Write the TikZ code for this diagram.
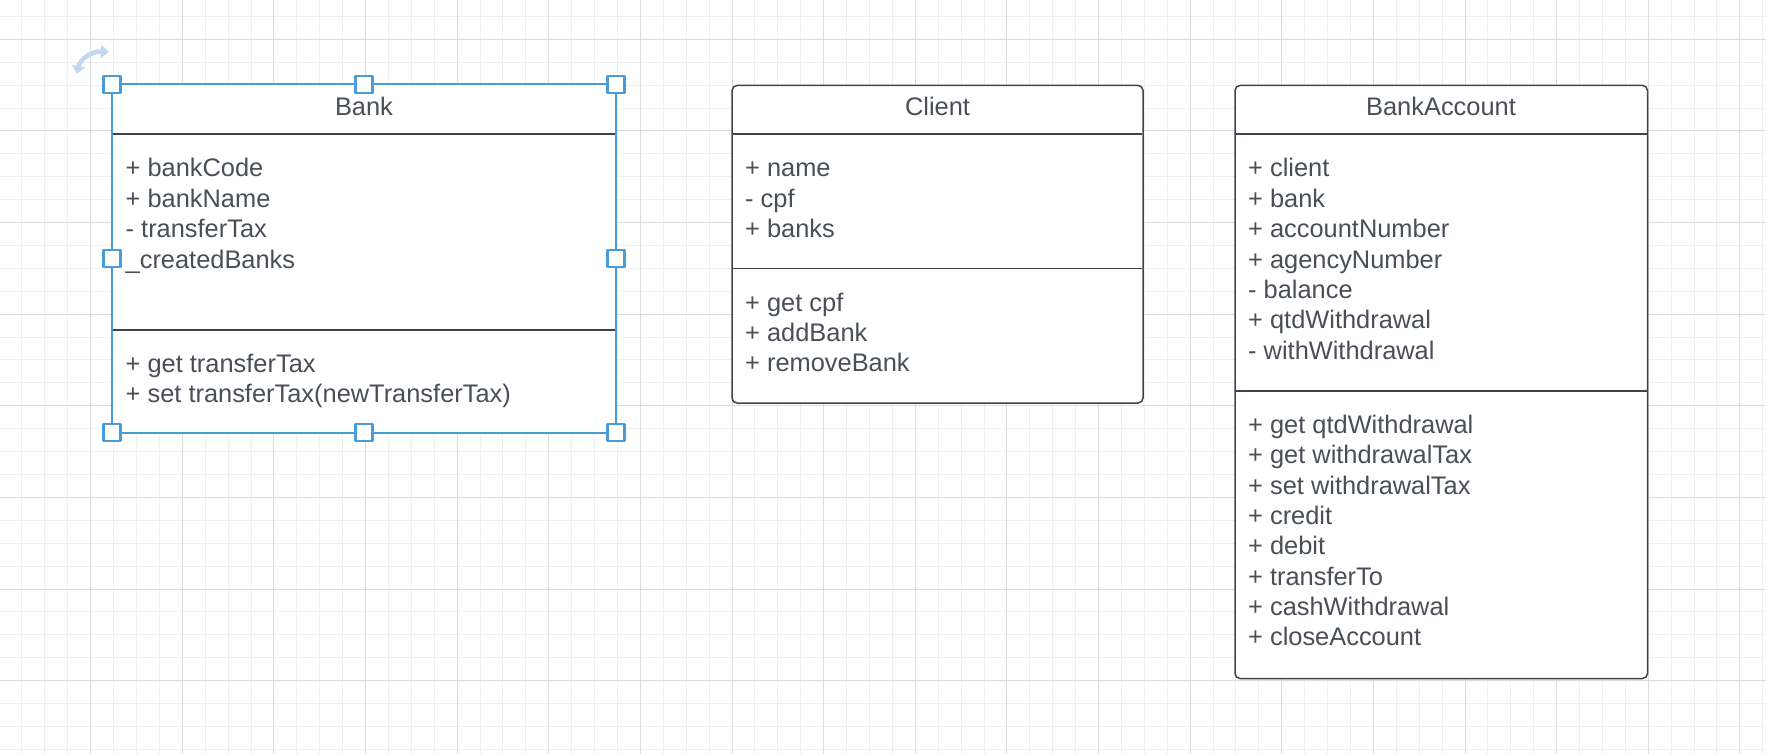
\documentclass[tikz,border=0pt]{standalone}
\usepackage{fontspec}
\setmainfont{Liberation Sans}
\usetikzlibrary{arrows.meta}

\definecolor{gridminor}{HTML}{EFEFEF}
\definecolor{gridmajor}{HTML}{DCDCDC}
\definecolor{umlline}{HTML}{3F444C}
\definecolor{umltext}{HTML}{4A4F57}
\definecolor{selblue}{HTML}{4A9BD9}
\definecolor{rotblue}{HTML}{C3D7F3}

\def\rowsep{30.35}
\def\gridstep{22.905}

\begin{document}
\begin{tikzpicture}[x=1pt, y=-1pt, line join=bevel,
>=Triangle,
umlbox/.style={draw=umlline, line width=1.5pt, fill=white, rounded corners=5pt},
umldiv/.style={draw=umlline, line width=1.3pt},
member/.style={anchor=base west, inner sep=0pt, text=umltext, font=\fontsize{25.4}{30}\selectfont},
classtitle/.style={anchor=base, inner sep=0pt, text=umltext, font=\fontsize{25.4}{30}\selectfont},
handle/.style={draw=selblue, line width=2.2pt, fill=white, minimum size=17pt, inner sep=0pt},
]
\useasboundingbox[fill=white] (0,0) rectangle (1766,754);

% grid
\foreach \k in {-4,...,73} \draw[gridminor, line width=1pt] ({90.7+\gridstep*\k},0) -- ({90.7+\gridstep*\k},754);
\foreach \k in {-2,...,31} \draw[gridminor, line width=1pt] (0,{39.3+\gridstep*\k}) -- (1766,{39.3+\gridstep*\k});
\foreach \k in {-1,...,18} \draw[gridmajor, line width=1pt] ({90.7+4*\gridstep*\k},0) -- ({90.7+4*\gridstep*\k},754);
\foreach \k in {0,...,7} \draw[gridmajor, line width=1pt] (0,{39.3+4*\gridstep*\k}) -- (1766,{39.3+4*\gridstep*\k});

% Bank (selected)
\draw[fill=white, draw=selblue, line width=2pt] (112,84.5) rectangle (616,432.5);
\draw[umldiv] (113,134) -- (615,134);
\draw[umldiv] (113,330) -- (615,330);
\node[classtitle] (bank) at (364,115.5) {Bank};
\foreach \txt [count=\i from 0] in {+ bankCode, + bankName, - transferTax, \_createdBanks}
  \node[member] (bank-a\i) at (125.5,{177+\rowsep*\i}) {\txt};
\foreach \txt [count=\i from 0] in {+ get transferTax, + set transferTax(newTransferTax)}
  \node[member] (bank-m\i) at (125.5,{372+\rowsep*\i}) {\txt};

% selection handles
\node[handle] (h-nw) at (112,84.5) {};
\node[handle] (h-n) at (364,84.5) {};
\node[handle] (h-ne) at (616,84.5) {};
\node[handle] (h-w) at (112,258.5) {};
\node[handle] (h-e) at (616,258.5) {};
\node[handle] (h-sw) at (112,432.5) {};
\node[handle] (h-s) at (364,432.5) {};
\node[handle] (h-se) at (616,432.5) {};
\draw[rotblue, line width=4.5pt, {Triangle[width=13pt,length=8pt]}-{Triangle[width=13pt,length=8pt]}]
  (77,74) .. controls (80,59) and (92,51) .. (109,52);

% Client
\draw[umlbox] (732,85.5) rectangle (1143,403);
\draw[umldiv] (733,134) -- (1142,134);
\draw[umldiv] (733,268.5) -- (1142,268.5);
\node[classtitle] (client) at (937.5,115.5) {Client};
\foreach \txt [count=\i from 0] in {+ name, - cpf, + banks}
  \node[member] (client-a\i) at (745,{177+\rowsep*\i}) {\txt};
\foreach \txt [count=\i from 0] in {+ get cpf, + addBank, + removeBank}
  \node[member] (client-m\i) at (745,{311+\rowsep*\i}) {\txt};

% BankAccount
\draw[umlbox] (1235,85.5) rectangle (1647.5,678.5);
\draw[umldiv] (1236,134) -- (1646.5,134);
\draw[umldiv] (1236,391) -- (1646.5,391);
\node[classtitle] (account) at (1441,116) {BankAccount};
\foreach \txt [count=\i from 0] in {+ client, + bank, + accountNumber, + agencyNumber, - balance, + qtdWithdrawal, - withWithdrawal}
  \node[member] (account-a\i) at (1248,{177+\rowsep*\i}) {\txt};
\foreach \txt [count=\i from 0] in {+ get qtdWithdrawal, + get withdrawalTax, + set withdrawalTax, + credit, + debit, + transferTo, + cashWithdrawal, + closeAccount}
  \node[member] (account-m\i) at (1248,{433.5+\rowsep*\i}) {\txt};
\end{tikzpicture}
\end{document}
